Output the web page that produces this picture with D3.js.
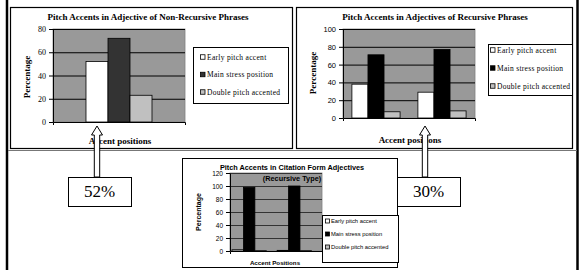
<!DOCTYPE html>
<html>
<head>
<meta charset="utf-8">
<script src="https://cdn.jsdelivr.net/npm/d3@7"></script>
<style>
  body { margin: 0; background: #fff; }
  svg { display: block; }
</style>
</head>
<body>
<svg id="fig" width="580" height="270"></svg>
<script>
// series shared by all three charts
const seriesNames = ["Early pitch accent", "Main stress position", "Double pitch accented"];

// chart 1: non-recursive phrases (single category)
const nonRecCategories = ["Accent"];
const nonRecEarly = [52];
const nonRecMain = [72];
const nonRecDouble = [23];
const nonRecTicks = [0, 20, 40, 60, 80];

// chart 2: recursive phrases
const recCategories = ["A", "B"];
const recEarly = [38, 29];
const recMain = [71, 77];
const recDouble = [7, 8];
const recTicks = [0, 20, 40, 60, 80, 100];

// chart 3: citation form (recursive type)
const citCategories = ["A", "B"];
const citEarly = [2, 1];
const citMain = [98, 100];
const citDouble = [0.5, 0.5];
const citTicks = [0, 20, 40, 60, 80, 100, 120];

const calloutLabels = ["52%", "30%"];

const SERIF = "'Liberation Serif', 'Times New Roman', serif";
const SANS = "'Liberation Sans', Arial, sans-serif";

const svg = d3.select("#fig");

// outer frame and panels
svg.append("line").attr("x1", 7).attr("x2", 7).attr("y1", 0).attr("y2", 270)
  .attr("stroke", "#000").attr("stroke-width", 2.5);
svg.append("line").attr("x1", 577.5).attr("x2", 577.5).attr("y1", 0).attr("y2", 270)
  .attr("stroke", "#000").attr("stroke-width", 2.5);
svg.append("line").attr("x1", 8).attr("x2", 577).attr("y1", 150.5).attr("y2", 150.5)
  .attr("stroke", "#777").attr("stroke-width", 1);
svg.append("rect").attr("x", 10.5).attr("y", 7.5).attr("width", 282).attr("height", 141)
  .attr("fill", "none").attr("stroke", "#000").attr("stroke-width", 1.2);
svg.append("rect").attr("x", 296.5).attr("y", 7.5).attr("width", 276).attr("height", 141)
  .attr("fill", "none").attr("stroke", "#000").attr("stroke-width", 1.2);
svg.append("rect").attr("x", 182.5).attr("y", 158.5).attr("width", 215).attr("height", 109)
  .attr("fill", "#fff").attr("stroke", "#000").attr("stroke-width", 1);

function drawChart(c) {
  const g = svg.append("g");
  const y = d3.scaleLinear().domain([0, c.ymax]).range([c.y1, c.y0]);
  const x = d3.scaleBand().domain(c.categories).range([c.x0, c.x1])
    .paddingInner(c.pi).paddingOuter(c.po).align(c.align == null ? 0.5 : c.align);
  const xs = d3.scaleBand().domain(d3.range(c.series.length)).range([0, x.bandwidth()]);

  // plot area
  g.append("rect").attr("x", c.x0).attr("y", c.y0)
    .attr("width", c.x1 - c.x0).attr("height", c.y1 - c.y0)
    .attr("fill", "#999").attr("stroke", "#808080").attr("stroke-width", 0.8);

  // gridlines
  g.append("g").attr("transform", `translate(${c.x0},0)`)
    .call(d3.axisLeft(y).tickValues(c.ticks.slice(1)).tickSize(-(c.x1 - c.x0)).tickFormat(""))
    .call(a => a.select(".domain").remove())
    .call(a => a.selectAll("line").attr("stroke", c.gridColor).attr("stroke-width", 1));

  // bars
  c.series.forEach((vals, si) => {
    g.selectAll(null).data(vals).enter().append("rect")
      .attr("x", (d, i) => x(c.categories[i]) + xs(si))
      .attr("y", d => y(d))
      .attr("width", xs.bandwidth())
      .attr("height", d => y(0) - y(d))
      .attr("fill", c.colors[si])
      .attr("stroke", "#000").attr("stroke-width", 0.8);
  });

  // y axis
  const ya = g.append("g").attr("transform", `translate(${c.x0},0)`)
    .call(d3.axisLeft(y).tickValues(c.ticks).tickSizeInner(4).tickSizeOuter(0).tickPadding(3));
  ya.selectAll("text").attr("font-family", c.tickFont).attr("font-size", c.tickSize).attr("fill", "#000");
  ya.selectAll("line, path").attr("stroke", "#000");

  // x axis
  const xa = g.append("g").attr("transform", `translate(0,${c.y1})`)
    .call(d3.axisBottom(x).tickSizeInner(0).tickSizeOuter(3).tickFormat(""));
  xa.selectAll("path").attr("stroke", "#000");

  // titles
  c.title.forEach((t, i) => {
    g.append("text").attr("x", c.titleX).attr("y", c.titleY + i * c.titleLine)
      .attr("text-anchor", "middle").attr("font-family", c.font).attr("font-weight", "bold")
      .attr("font-size", c.titleSize).text(t);
  });
  g.append("text").attr("transform", `translate(${c.ylabX},${c.ylabY}) rotate(-90)`)
    .attr("text-anchor", "middle").attr("font-family", c.font).attr("font-weight", "bold")
    .attr("font-size", c.labelSize).text("Percentage");
  g.append("text").attr("x", c.xlabX).attr("y", c.xlabY)
    .attr("text-anchor", "middle").attr("font-family", c.font).attr("font-weight", "bold")
    .attr("font-size", c.xlabSize || c.labelSize).text(c.xlab);

  // legend
  const L = c.legend;
  g.append("rect").attr("x", L.x + 0.5).attr("y", L.y + 0.5).attr("width", L.w).attr("height", L.h)
    .attr("fill", "#fff").attr("stroke", "#000").attr("stroke-width", 1);
  seriesNames.forEach((name, si) => {
    const cy = L.rows[si];
    g.append("rect").attr("x", L.mx + 0.5).attr("y", cy - L.ms / 2)
      .attr("width", L.ms).attr("height", L.ms)
      .attr("fill", c.colors[si]).attr("stroke", "#000").attr("stroke-width", 0.8);
    g.append("text").attr("x", L.tx).attr("y", cy).attr("dy", "0.35em")
      .attr("font-family", L.font).attr("font-size", L.size).attr("letter-spacing", L.ls || 0)
      .text(name);
  });
}

drawChart({
  categories: nonRecCategories, series: [nonRecEarly, nonRecMain, nonRecDouble],
  ymax: 80, ticks: nonRecTicks, x0: 53, x1: 185, y0: 29, y1: 122, pi: 0.5, po: 0.25,
  colors: ["#fff", "#333", "#c0c0c0"], gridColor: "#000",
  font: SERIF, tickFont: SERIF, tickSize: 8,
  title: ["Pitch Accents in Adjective of Non-Recursive Phrases"], titleX: 148, titleY: 20, titleLine: 0, titleSize: 9,
  labelSize: 9, ylabX: 30, ylabY: 77, xlab: "Accent positions", xlabX: 120, xlabY: 144,
  legend: { x: 193, y: 47, w: 95, h: 56, rows: [57, 74.5, 92], mx: 200, ms: 4.5, tx: 207,
            font: SERIF, size: 7.5, ls: 0.3 }
});

drawChart({
  categories: recCategories, series: [recEarly, recMain, recDouble],
  ymax: 100, ticks: recTicks, x0: 343, x1: 475, y0: 29, y1: 118, pi: 0.27, po: 0.135,
  colors: ["#fff", "#000", "#c0c0c0"], gridColor: "#000",
  font: SERIF, tickFont: SANS, tickSize: 7.5,
  title: ["Pitch Accents in Adjectives of Recursive Phrases"], titleX: 435, titleY: 20, titleLine: 0, titleSize: 9,
  labelSize: 9, ylabX: 316, ylabY: 73, xlab: "Accent positions", xlabX: 410, xlabY: 143,
  legend: { x: 488, y: 44, w: 84, h: 51, rows: [50, 68, 86], mx: 490, ms: 4.5, tx: 497,
            font: SERIF, size: 7.5, ls: 0.3 }
});

drawChart({
  categories: citCategories, series: [citEarly, citMain, citDouble],
  ymax: 120, ticks: citTicks, x0: 230, x1: 322, y0: 173, y1: 251, pi: 0.24, po: 0.14, align: 0.16,
  colors: ["#fff", "#000", "#c0c0c0"], gridColor: "#333",
  font: SANS, tickFont: SANS, tickSize: 6.5,
  title: ["Pitch Accents in Citation Form Adjectives", "(Recursive Type)"], titleX: 292, titleY: 170, titleLine: 11, titleSize: 7.3,
  labelSize: 7, xlabSize: 6.2, ylabX: 201, ylabY: 212, xlab: "Accent Positions", xlabX: 275, xlabY: 265,
  legend: { x: 322, y: 215, w: 76, h: 47, rows: [221, 234, 247], mx: 325, ms: 4, tx: 331,
            font: SANS, size: 5.8 }
});

// block arrows and callout boxes
const callouts = [
  { cx: 97, tip: 126, bottom: 177, box: [68, 177, 63, 29] },
  { cx: 425, tip: 126, bottom: 177, box: [397, 177, 63, 29] }
];
callouts.forEach((c, i) => {
  const hw = 5.5, sw = 2.7, hh = 9;
  const pts = [
    [c.cx, c.tip], [c.cx + hw, c.tip + hh], [c.cx + sw, c.tip + hh], [c.cx + sw, c.bottom],
    [c.cx - sw, c.bottom], [c.cx - sw, c.tip + hh], [c.cx - hw, c.tip + hh]
  ];
  svg.append("path").attr("d", d3.line()(pts) + "Z")
    .attr("fill", "#fff").attr("stroke", "#000").attr("stroke-width", 1);
  const [bx, by, bw, bh] = c.box;
  svg.append("rect").attr("x", bx + 0.5).attr("y", by + 0.5).attr("width", bw).attr("height", bh)
    .attr("fill", "#fff").attr("stroke", "#000").attr("stroke-width", 1);
  svg.append("text").attr("x", bx + bw / 2).attr("y", by + bh / 2).attr("dy", "0.35em")
    .attr("text-anchor", "middle").attr("font-family", SERIF).attr("font-size", 17)
    .text(calloutLabels[i]);
});
</script>
</body>
</html>
